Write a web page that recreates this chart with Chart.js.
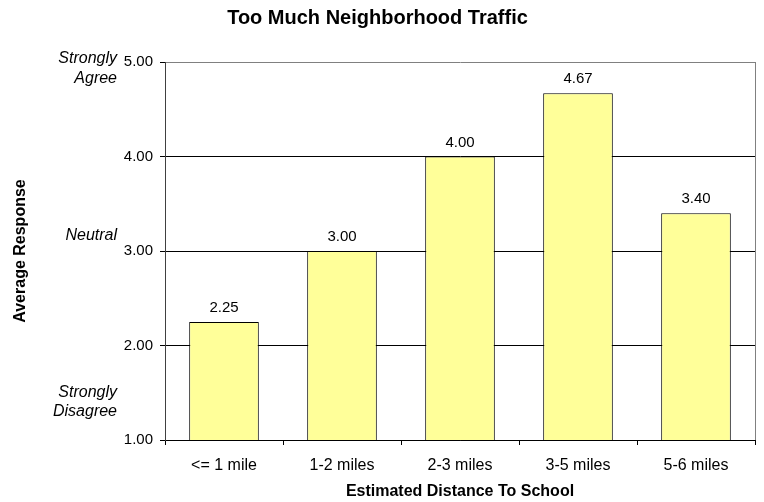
<!DOCTYPE html>
<html>
<head>
<meta charset="utf-8">
<script src="https://cdn.jsdelivr.net/npm/chart.js@4/dist/chart.umd.min.js"></script>
<style>
    html, body { margin: 0; padding: 0; background: #fff; }
    #wrap { width: 764px; height: 502px; }
</style>
</head>
<body>
<div id="wrap"><canvas id="trafficChart"></canvas></div>
<script>
// Survey data
const distances = ['<= 1 mile', '1-2 miles', '2-3 miles', '3-5 miles', '5-6 miles'];
const avgResponse = [2.25, 3.00, 4.00, 4.67, 3.40];
const yTicks = [1, 2, 3, 4, 5];

// Scale meaning labels shown left of the y axis
const scaleNotes = [
    { text: 'Strongly', at: 5.04 },
    { text: 'Agree', at: 4.83 },
    { text: 'Neutral', at: 3.16 },
    { text: 'Strongly', at: 1.50 },
    { text: 'Disagree', at: 1.30 }
];

const FONT = "'Liberation Sans', Arial, sans-serif";

// Value labels above each bar, italic notes and the gray frame on the right
const extrasPlugin = {
    id: 'extras',
    afterDatasetsDraw(chart) {
        const ctx = chart.ctx;
        const meta = chart.getDatasetMeta(0);
        ctx.save();
        ctx.font = '15px ' + FONT;
        ctx.fillStyle = '#000';
        ctx.textAlign = 'center';
        ctx.textBaseline = 'alphabetic';
        meta.data.forEach((bar, i) => {
            ctx.fillText(avgResponse[i].toFixed(2), bar.x, bar.y - 10);
        });
        ctx.restore();
    },
    afterDraw(chart) {
        const ctx = chart.ctx;
        const area = chart.chartArea;
        const y = chart.scales.y;
        ctx.save();
        ctx.strokeStyle = '#808080';
        ctx.lineWidth = 1;
        ctx.beginPath();
        ctx.moveTo(Math.round(area.right) + 0.5, area.top);
        ctx.lineTo(Math.round(area.right) + 0.5, area.bottom);
        ctx.stroke();

        ctx.font = 'italic 16px ' + FONT;
        ctx.fillStyle = '#000';
        ctx.textAlign = 'right';
        ctx.textBaseline = 'middle';
        scaleNotes.forEach(n => {
            ctx.fillText(n.text, 117, y.getPixelForValue(n.at));
        });
        ctx.restore();
    }
};

const ctx = document.getElementById('trafficChart').getContext('2d');
const trafficChart = new Chart(ctx, {
    type: 'bar',
    data: {
        labels: distances,
        datasets: [{
            data: avgResponse,
            backgroundColor: '#FFFF99',
            borderColor: '#000000',
            borderWidth: 1,
            barPercentage: 0.59,
            categoryPercentage: 1
        }]
    },
    options: {
        responsive: true,
        maintainAspectRatio: false,
        animation: false,
        layout: { padding: { left: 0, right: 9, top: 0, bottom: 0 } },
        plugins: {
            legend: { display: false },
            tooltip: { enabled: false },
            title: {
                display: true,
                text: 'Too Much Neighborhood Traffic',
                color: '#000',
                font: { family: FONT, size: 20, weight: 'bold' },
                padding: { top: 6, bottom: 32 }
            }
        },
        scales: {
            x: {
                offset: true,
                grid: {
                    offset: true,
                    drawOnChartArea: false,
                    tickLength: 5,
                    tickColor: '#000'
                },
                border: { color: '#000' },
                ticks: {
                    color: '#000',
                    padding: 11,
                    maxRotation: 0,
                    font: { family: FONT, size: 16 }
                },
                title: {
                    display: true,
                    text: 'Estimated Distance To School',
                    color: '#000',
                    font: { family: FONT, size: 16, weight: 'bold' },
                    padding: { top: 0, bottom: 1 }
                },
                afterFit(scale) { scale.height = 62; }
            },
            y: {
                min: 1,
                max: 5,
                afterBuildTicks(scale) {
                    scale.ticks = yTicks.map(v => ({ value: v }));
                },
                grid: {
                    color: c => (c.tick && c.tick.value === 5 ? '#808080' : '#000'),
                    tickColor: '#000',
                    tickLength: 5
                },
                border: { color: '#404040' },
                ticks: {
                    color: '#000',
                    padding: 7,
                    font: { family: FONT, size: 15 },
                    callback: v => Number(v).toFixed(2)
                },
                title: {
                    display: true,
                    text: 'Average Response',
                    color: '#000',
                    font: { family: FONT, size: 16, weight: 'bold' },
                    padding: { top: 11, bottom: 0 }
                },
                afterFit(scale) { scale.width = 165; }
            }
        }
    },
    plugins: [extrasPlugin]
});
</script>
</body>
</html>
